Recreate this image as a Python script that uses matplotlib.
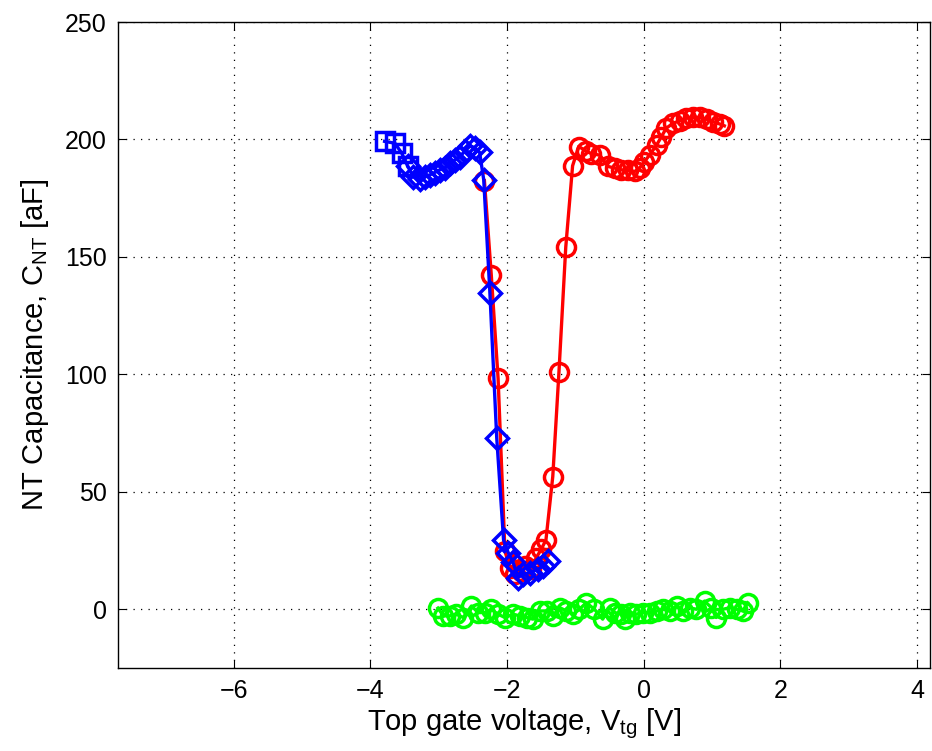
import matplotlib
matplotlib.use("Agg")
import matplotlib.pyplot as plt
from matplotlib import font_manager

# pick a narrow Helvetica-like face if there is one
names = {f.name for f in font_manager.fontManager.ttflist}
narrow = "Liberation Sans Narrow" if "Liberation Sans Narrow" in names else "Liberation Sans"
plt.rcParams["font.family"] = [narrow, "DejaVu Sans"]

# red circles: sweep through the gap
red_x = [-2.33, -2.23, -2.13, -2.03, -1.96, -1.88, -1.80, -1.74, -1.65, -1.57, -1.50, -1.43,
         -1.33, -1.24, -1.14, -1.04, -0.95, -0.85, -0.77, -0.64, -0.52, -0.42, -0.33, -0.23,
         -0.13, -0.06, 0.01, 0.09, 0.19, 0.26, 0.33, 0.43, 0.53, 0.62, 0.72, 0.82, 0.92,
         1.01, 1.11, 1.18]
red_y = [182.5, 142.5, 98.3, 24.8, 17.7, 15.0, 16.5, 18.4, 17.0, 22.0, 25.5, 29.5,
         56.5, 100.8, 154.2, 188.8, 197.0, 195.2, 194.0, 193.3, 188.5, 187.8, 187.1, 186.8,
         186.4, 187.8, 190.6, 193.5, 197.7, 201.2, 204.8, 206.9, 208.0, 209.0, 209.4, 209.4, 208.6,
         207.6, 206.6, 205.8]

# blue squares: first points of the other sweep
sq_x = [-3.79, -3.64, -3.54, -3.45]
sq_y = [199.2, 198.4, 194.2, 188.5]

# blue diamonds
dia_x = [-3.45, -3.37, -3.27, -3.20, -3.13, -3.06, -2.98, -2.91, -2.84, -2.76, -2.69, -2.62,
         -2.54, -2.47, -2.40, -2.34, -2.25, -2.15, -2.05, -1.98, -1.91, -1.84, -1.76, -1.67,
         -1.55, -1.47, -1.40]
dia_y = [188.5, 184.2, 183.1, 184.2, 184.9, 185.9, 187.1, 187.8, 189.9, 191.3, 192.7, 194.9,
         197.2, 196.5, 194.5, 182.8, 134.8, 73.1, 29.5, 24.0, 20.0, 13.5, 14.9, 15.6,
         17.0, 18.4, 20.5]

# green circles: reference trace near zero
grn_x = [-3.01, -2.93, -2.84, -2.74, -2.64, -2.52, -2.42, -2.32, -2.23, -2.13, -2.03, -1.91,
         -1.81, -1.71, -1.62, -1.52, -1.42, -1.33, -1.23, -1.13, -1.03, -0.94, -0.84, -0.72,
         -0.60, -0.50, -0.42, -0.33, -0.28, -0.20, -0.11, -0.01, 0.09, 0.19, 0.28, 0.38,
         0.48, 0.57, 0.67, 0.77, 0.89, 0.99, 1.06, 1.16, 1.26, 1.36, 1.45, 1.52]
grn_y = [0.5, -2.8, -2.8, -2.1, -3.5, 1.4, -1.4, -1.4, 0.0, -2.1, -3.5, -2.1,
         -2.8, -3.5, -4.2, -0.7, -0.7, -2.8, 0.7, -0.7, -2.1, 0.0, 2.8, 0.0,
         -4.2, 0.7, -1.4, -2.1, -4.0, -1.4, -2.1, -1.4, -1.4, -0.7, 0.0, -0.7,
         1.4, -0.7, 0.7, 0.0, 3.5, 0.7, -3.5, 0.0, 0.7, 0.0, -0.7, 2.8]

fig = plt.figure(figsize=(9.32, 7.51), dpi=100)
ax = fig.add_axes([0.1266, 0.1105, 0.8714, 0.8602])

mk = dict(markersize=13, markeredgewidth=2.5, markerfacecolor="none", linewidth=2.4)
ax.plot(grn_x, grn_y, "-o", color="#00ff00", **mk)
ax.plot(red_x, red_y, "-o", color="#ff0000", **mk)
ax.plot(sq_x, sq_y, "-s", color="#0000ff", **mk)
ax.plot(dia_x, dia_y, "-D", color="#0000ff", markersize=11.5, markeredgewidth=2.5,
        markerfacecolor="none", linewidth=2.4)

ax.set_xlim(-7.69, 4.19)
ax.set_ylim(-25, 250)
ax.set_xticks([-6, -4, -2, 0, 2, 4])
ax.set_yticks([0, 50, 100, 150, 200, 250])
ax.set_xticklabels(["\u22126", "\u22124", "\u22122", "0", "2", "4"])
ax.grid(True, color="black", linestyle=(0, (1, 5)), linewidth=0.9)
ax.tick_params(direction="in", length=6, width=0.8, top=True, right=True,
               labelsize=18, pad=8)
for s in ax.spines.values():
    s.set_linewidth(1.0)

ax.set_xlabel(r"Top gate voltage, V$_\mathregular{tg}$ [V]", fontsize=21, labelpad=2)
ax.set_ylabel(r"NT Capacitance, C$_\mathregular{NT}$ [aF]", fontsize=21, labelpad=10)

fig.savefig("out.png", dpi=100)
